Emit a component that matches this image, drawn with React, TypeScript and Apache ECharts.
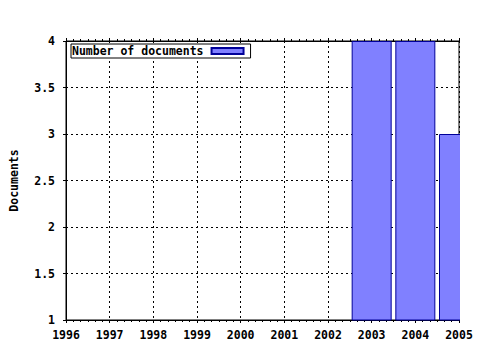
import React, { useEffect, useRef } from "react";
import * as echarts from "echarts";

const years = [2003, 2004, 2005];
const documents = [4, 4, 3];
const seriesName = "Number of documents";
const yAxisName = "Documents";

const FONT = "'DejaVu Sans Mono', monospace";

export default function App() {
  const ref = useRef<HTMLDivElement>(null);
  useEffect(() => {
    document.body.style.margin = "0";
    const chart = echarts.init(ref.current!, null, { renderer: "svg" });
    const data = years.map((y, i) => [y, documents[i]]);
    const axisLine = { show: true, lineStyle: { color: "#000", width: 1 } };
    chart.setOption({
      animation: false,
      backgroundColor: "#fff",
      grid: {
        left: 65,
        right: 21,
        top: 41,
        bottom: 30,
        show: true,
        borderColor: "#000",
        borderWidth: 1,
        backgroundColor: "transparent",
      },
      graphic: [
        {
          type: "rect",
          z: 100,
          shape: { x: 460, y: 30, width: 20, height: 293 },
          style: { fill: "#fff" },
          silent: true,
        },
      ],
      legend: {
        show: true,
        data: [seriesName],
        left: 71,
        top: 44,
        orient: "horizontal",
        align: "right",
        icon: "rect",
        itemWidth: 32,
        itemHeight: 6,
        padding: [1, 6, 1, 1],
        borderColor: "#000",
        borderWidth: 1,
        backgroundColor: "#fff",
        textStyle: {
          fontFamily: FONT,
          fontWeight: "bold",
          fontSize: 11.5,
          color: "#000",
          lineHeight: 11,
          padding: [0, 3, 0, 0],
        },
      },
      xAxis: [
        {
          type: "value",
          min: 1996,
          max: 2005,
          interval: 1,
          position: "bottom",
          axisLine,
          axisTick: { show: true, length: 3, lineStyle: { color: "#000" } },
          minorTick: { show: true, splitNumber: 6, length: 2, lineStyle: { color: "#000" } },
          axisLabel: {
            margin: 9,
            fontFamily: FONT,
            fontWeight: "bold",
            fontSize: 11.5,
            color: "#000",
            formatter: (v: number) => String(v),
          },
          splitLine: {
            show: true,
            lineStyle: { color: "#000", type: [2, 3], width: 1 },
          },
        },
        {
          type: "value",
          min: 1996,
          max: 2005,
          interval: 1,
          position: "top",
          axisLine,
          axisTick: { show: true, length: 3, lineStyle: { color: "#000" } },
          minorTick: { show: true, splitNumber: 6, length: 2, lineStyle: { color: "#000" } },
          axisLabel: { show: false },
          splitLine: { show: false },
        },
      ],
      yAxis: {
        type: "value",
        min: 1,
        max: 4,
        interval: 0.5,
        name: yAxisName,
        nameLocation: "middle",
        nameGap: 46,
        nameTextStyle: {
          fontFamily: FONT,
          fontWeight: "bold",
          fontSize: 11.5,
          color: "#000",
        },
        axisLine,
        axisTick: { show: true, length: 3, lineStyle: { color: "#000" } },
        axisLabel: {
          margin: 11,
          fontFamily: FONT,
          fontWeight: "bold",
          fontSize: 11.5,
          color: "#000",
        },
        splitLine: {
          show: true,
          lineStyle: { color: "#000", type: [2, 3], width: 1 },
        },
      },
      series: [
        {
          name: seriesName,
          type: "bar",
          xAxisIndex: 0,
          data,
          barWidth: 40,
          clip: true,
          itemStyle: { color: "#8080ff", borderColor: "#000099", borderWidth: 1 },
        },
      ],
    });
    return () => chart.dispose();
  }, []);
  return <div ref={ref} style={{ width: 480, height: 350 }} />;
}
